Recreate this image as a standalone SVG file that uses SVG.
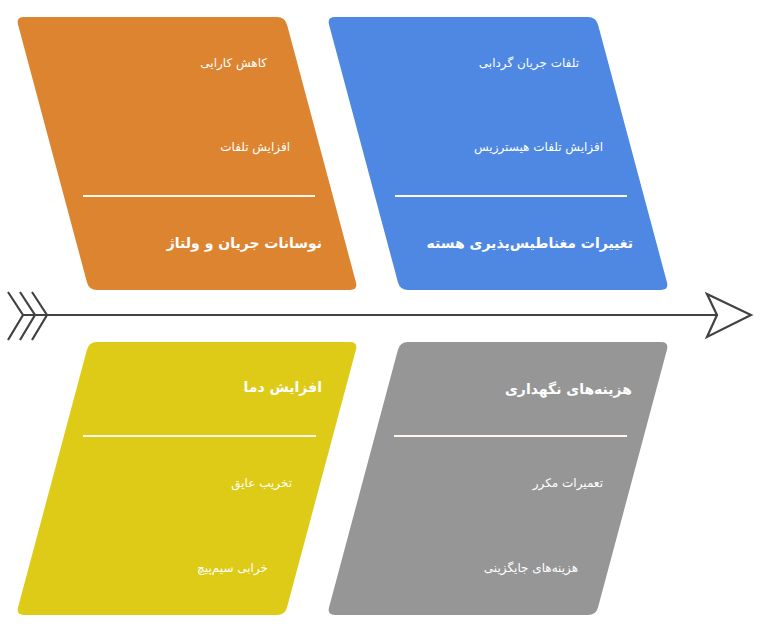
<svg xmlns="http://www.w3.org/2000/svg" xmlns:xlink="http://www.w3.org/1999/xlink" width="765" height="638" viewBox="0 0 765 638">
<style>
  .item { font-family: "DejaVu Sans", "Noto Sans", sans-serif; font-size: 12px; fill: #ffffff; text-anchor: end; }
  .title { font-family: "DejaVu Sans", "Noto Sans", sans-serif; font-size: 14px; font-weight: bold; fill: #ffffff; text-anchor: end; }
  .div { stroke: #fff8e8; stroke-width: 2; }
  .spine { stroke: #424242; stroke-width: 2.2; fill: none; stroke-linejoin: miter; }
</style>
<defs>
  <path id="topShape" d="M8,0 L261,0 Q269,0 271.07,7.73 L339.93,265.27 Q342,273 334,273 L81,273 Q73,273 70.93,265.27 L2.07,7.73 Q0,0 8,0 Z"/>
  <path id="botShape" d="M81,0 L334,0 Q342,0 339.93,7.73 L271.07,265.27 Q269,273 261,273 L8,273 Q0,273 2.07,265.27 L70.93,7.73 Q73,0 81,0 Z"/>
</defs>
<rect width="765" height="638" fill="#ffffff"/>

<g id="connectors">
  <line class="spine" x1="23" y1="315" x2="718" y2="315"/>
  <polyline class="spine" points="8,292 23,315 8,340"/>
  <polyline class="spine" points="20,292 35,315 20,340"/>
  <polyline class="spine" points="32,292 47,315 32,340"/>
  <polygon class="spine" points="707,294 751,315 707,337 717,315"/>
</g>

<g id="node-voltage">
  <use xlink:href="#topShape" transform="translate(16,17)" fill="#dd8431"/>
  <text class="item" x="267" y="67">کاهش کارایی</text>
  <text class="item" x="290" y="151">افزایش تلفات</text>
  <line class="div" x1="83" y1="196" x2="315" y2="196"/>
  <text class="title" x="322" y="248">نوسانات جریان و ولتاژ</text>
</g>

<g id="node-core">
  <use xlink:href="#topShape" transform="translate(327,17)" fill="#4e88e3"/>
  <text class="item" x="579" y="67">تلفات جریان گردابی</text>
  <text class="item" x="603" y="151">افزایش تلفات هیسترزیس</text>
  <line class="div" x1="395" y1="196" x2="627" y2="196"/>
  <text class="title" x="633" y="248">تغییرات مغناطیس‌پذیری هسته</text>
</g>

<g id="node-temp">
  <use xlink:href="#botShape" transform="translate(16,342)" fill="#decb17"/>
  <text class="title" x="322" y="392">افزایش دما</text>
  <line class="div" x1="83" y1="436" x2="316" y2="436"/>
  <text class="item" x="292" y="487">تخریب عایق</text>
  <text class="item" x="268" y="572">خرابی سیم‌پیچ</text>
</g>

<g id="node-cost">
  <use xlink:href="#botShape" transform="translate(327,342)" fill="#969696"/>
  <text class="title" x="632" y="394">هزینه‌های نگهداری</text>
  <line class="div" x1="394" y1="436" x2="627" y2="436"/>
  <text class="item" x="603" y="487">تعمیرات مکرر</text>
  <text class="item" x="578" y="572">هزینه‌های جایگزینی</text>
</g>
</svg>
